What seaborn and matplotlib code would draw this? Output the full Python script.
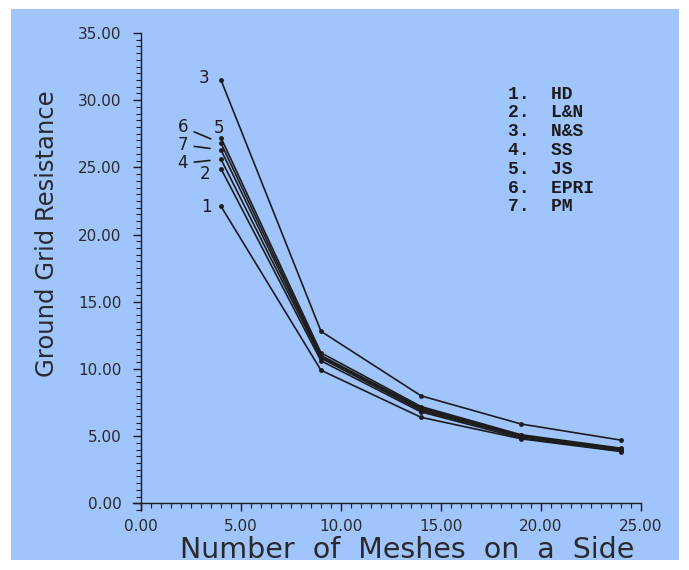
import numpy as np
import pandas as pd
import matplotlib
matplotlib.use("Agg")
import matplotlib.pyplot as plt
import matplotlib.ticker as mticker
import matplotlib.patches as mpatches
import seaborn as sns

# ─────────────────────────────────────────────
# DATA
# ─────────────────────────────────────────────
meshes = [4, 9, 14, 19, 24]
methods = ["HD", "L&N", "N&S", "SS", "JS", "EPRI", "PM"]

hd = [22.1, 9.9, 6.4, 4.8, 3.85]
ln = [24.9, 10.6, 6.8, 4.85, 3.9]
ns = [31.5, 12.8, 8.0, 5.9, 4.7]
ss = [25.6, 10.8, 6.9, 4.95, 3.95]
js = [27.2, 11.2, 7.2, 5.1, 4.1]
epri = [26.8, 11.0, 7.1, 5.05, 4.05]
pm = [26.3, 10.9, 7.0, 5.0, 4.0]

series = [hd, ln, ns, ss, js, epri, pm]
curve_ids = ["1", "2", "3", "4", "5", "6", "7"]

x_ticks = [0, 5, 10, 15, 20, 25]
y_ticks = [0, 5, 10, 15, 20, 25, 30, 35]

BLUE = "#a0c4fc"
INK = "#1c1c1c"

df = pd.DataFrame({
    "meshes": meshes * len(series),
    "resistance": [v for s in series for v in s],
    "method": [m for m in methods for _ in meshes],
})

# ─────────────────────────────────────────────
# PLOT
# ─────────────────────────────────────────────
sns.set_theme(style="ticks")
plt.rcParams["font.family"] = ["DejaVu Sans"]

fig = plt.figure(figsize=(6.89, 5.70), dpi=100)
fig.patch.set_facecolor("white")
fig.patches.append(mpatches.Rectangle((11 / 689, 10 / 570), 668 / 689, 551 / 570,
                                      transform=fig.transFigure, facecolor=BLUE,
                                      edgecolor="none", zorder=-10))

ax = fig.add_axes([133 / 689, (570 - 510) / 570, 508 / 689, 477 / 570])
ax.set_facecolor(BLUE)
ax.patch.set_alpha(0)

sns.lineplot(data=df, x="meshes", y="resistance", units="method", estimator=None,
             color=INK, linewidth=1.2, marker="o", markersize=3.5,
             markeredgewidth=0, ax=ax, legend=False)

ax.set_xlim(-0.4, 25)
ax.set_ylim(-0.5, 35)
ax.spines["left"].set_position(("data", 0))
ax.spines["bottom"].set_position(("data", 0))
for side in ["top", "right"]:
    ax.spines[side].set_visible(False)
for side in ["left", "bottom"]:
    ax.spines[side].set_color(INK)
    ax.spines[side].set_linewidth(1.0)

ax.set_xticks(x_ticks)
ax.set_yticks(y_ticks)
ax.xaxis.set_minor_locator(mticker.MultipleLocator(0.5))
ax.yaxis.set_minor_locator(mticker.MultipleLocator(0.5))
fmt = mticker.FuncFormatter(lambda v, _: f"{v:.2f}")
ax.xaxis.set_major_formatter(fmt)
ax.yaxis.set_major_formatter(fmt)
ax.tick_params(which="major", direction="out", length=6, width=1, colors=INK,
               labelsize=11, labelcolor="#2a2a2a")
ax.tick_params(which="minor", direction="out", length=3.5, width=0.8, colors=INK)
ax.tick_params(axis="y", pad=8)
ax.tick_params(axis="x", pad=5)

ax.set_xlabel("Number  of  Meshes  on  a  Side", fontsize=20.5, color="#2a2a2a")
ax.set_ylabel("Ground Grid Resistance", fontsize=17.5, color="#2a2a2a")
ax.xaxis.set_label_coords(0.54, -0.054)
ax.yaxis.set_label_coords(-0.145, 0.58)

# curve number tags next to the first point of each curve (offsets in pixels)
tags = {
    "1": (-15, -1, False),
    "2": (-16, -5, False),
    "3": (-17, 2, False),
    "4": (-38, -4, True),
    "5": (-2, 10, False),
    "6": (-38, 16, True),
    "7": (-38, 5, True),
}
for cid, s in zip(curve_ids, series):
    dx, dy, lead = tags[cid]
    arrow = dict(arrowstyle="-", color=INK, lw=1.2, shrinkA=2, shrinkB=8) if lead else None
    ax.annotate(cid, xy=(meshes[0], s[0]), xytext=(dx, dy), textcoords="offset pixels",
                ha="center", va="center", fontsize=12, color=INK, arrowprops=arrow)

# numbered key
for i, m in enumerate(methods):
    ax.text(0.738, 0.872 - i * 0.0394, f"{i + 1}.  {m}", transform=ax.transAxes,
            family="Liberation Mono", fontweight="bold", fontsize=13,
            color=INK, va="center", ha="left")

fig.savefig("out.png", dpi=100, facecolor=fig.get_facecolor())
